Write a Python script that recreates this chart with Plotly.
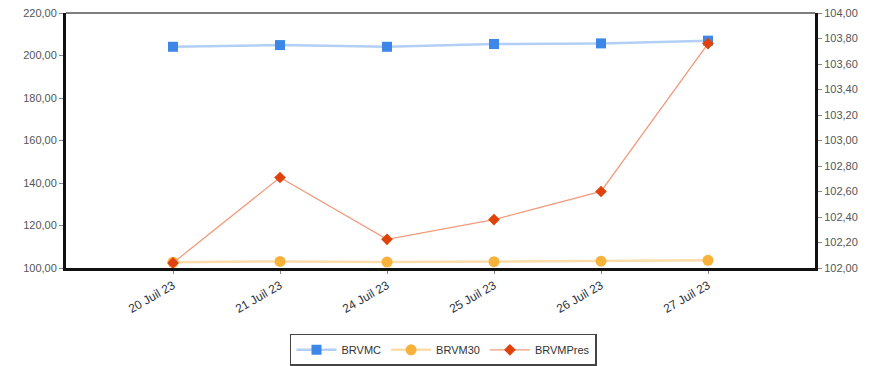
import plotly.graph_objects as go

# Séances (axe des catégories)
dates = ["20 Juil 23", "21 Juil 23", "24 Juil 23", "25 Juil 23", "26 Juil 23", "27 Juil 23"]

# Indices BRVM
brvmc = [204.1, 204.9, 204.1, 205.4, 205.7, 207.0]       # axe gauche
brvm30 = [102.7, 103.1, 102.8, 103.0, 103.2, 103.6]      # axe gauche
brvmpres = [102.04, 102.71, 102.225, 102.38, 102.60, 103.76]  # axe droit

left_ticks = [100, 120, 140, 160, 180, 200, 220]
right_ticks = [102.0, 102.2, 102.4, 102.6, 102.8, 103.0, 103.2, 103.4, 103.6, 103.8, 104.0]

fig = go.Figure()

fig.add_trace(go.Scatter(
    x=dates, y=brvmc, name="BRVMC", mode="lines+markers",
    line=dict(color="#b3cff5", width=2.5),
    marker=dict(symbol="square", size=10, color="#3d87e8"),
))
fig.add_trace(go.Scatter(
    x=dates, y=brvm30, name="BRVM30", mode="lines+markers",
    line=dict(color="#fcdcaa", width=2.5),
    marker=dict(symbol="circle", size=11, color="#f8b23a"),
))
fig.add_trace(go.Scatter(
    x=dates, y=brvmpres, name="BRVMPres", mode="lines+markers", yaxis="y2",
    line=dict(color="#f29a7c", width=1.3),
    marker=dict(symbol="diamond", size=9, color="#e0420c"),
))

tick_font = dict(family="Liberation Sans, Arial", size=11, color="#555555")

fig.update_layout(
    width=875, height=366,
    margin=dict(l=66, r=60, t=13, b=98, autoexpand=False),
    paper_bgcolor="white", plot_bgcolor="white",
    separators=", ",
    showlegend=True,
    legend=dict(
        orientation="h", x=0.504, xanchor="center", y=-0.258, yanchor="top",
        bordercolor="#444444", borderwidth=1.5,
        font=dict(family="Liberation Sans, Arial", size=11, color="#333333"),
        itemwidth=40, tracegroupgap=0,
    ),
    xaxis=dict(
        type="category", range=[-1, 6],
        showgrid=False, showline=True, linecolor="#111111", linewidth=3,
        ticks="outside", ticklen=3, tickcolor="#888888",
        tickangle=-30,
        tickfont=dict(family="Liberation Sans, Arial", size=12, color="#2b3340"),
        zeroline=False, automargin=False,
    ),
    yaxis=dict(
        range=[100, 220], tickvals=left_ticks, tickformat=".2f",
        showgrid=False, showline=True, linecolor="#111111", linewidth=3,
        ticks="outside", ticklen=4, tickcolor="#888888",
        tickfont=tick_font, zeroline=False, automargin=False,
    ),
    yaxis2=dict(
        range=[102, 104], tickvals=right_ticks, tickformat=".2f",
        overlaying="y", side="right",
        showgrid=False, showline=True, linecolor="#111111", linewidth=3,
        ticks="outside", ticklen=4, tickcolor="#888888",
        tickfont=tick_font, zeroline=False, automargin=False,
    ),
)

# Bordure supérieure du cadre
fig.add_shape(type="line", xref="paper", yref="paper", x0=0, x1=1, y0=1, y1=1,
              line=dict(color="#555555", width=1.5))

fig.write_html("out.html")
